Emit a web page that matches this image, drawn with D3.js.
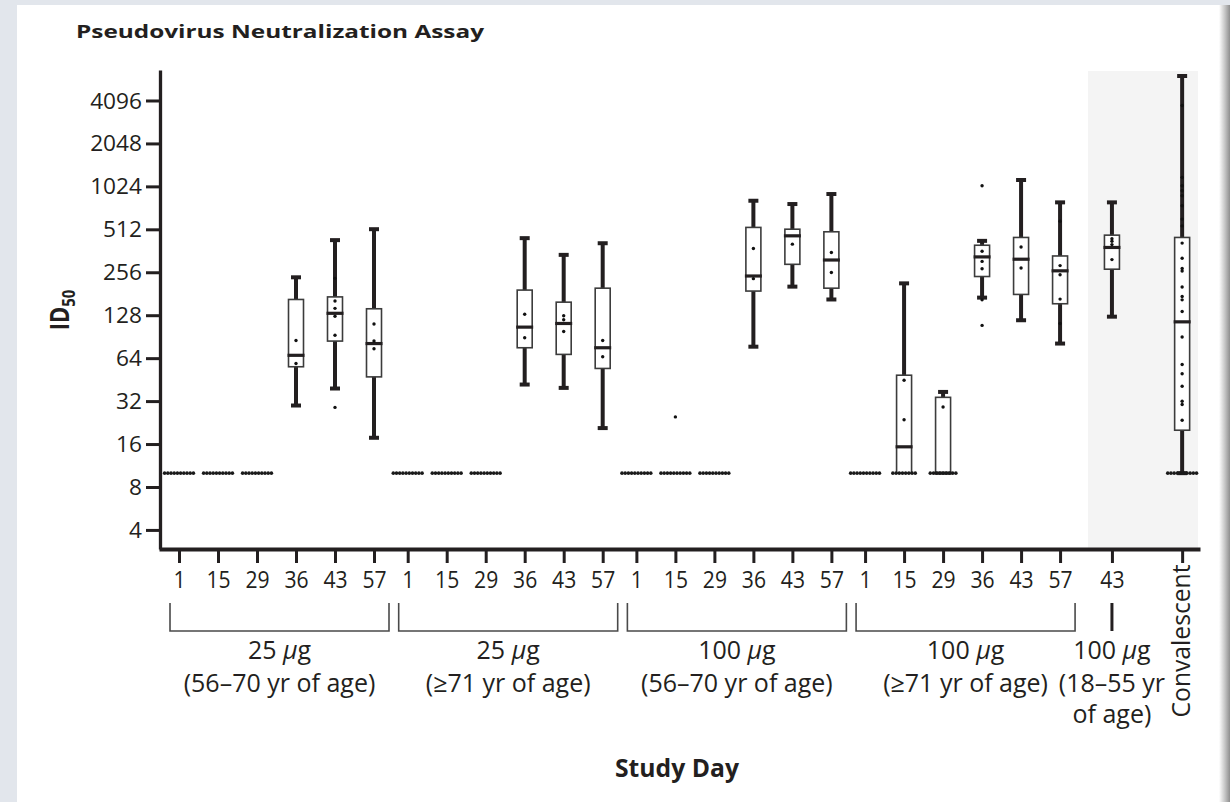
<!DOCTYPE html>
<html>
<head>
<meta charset="utf-8">
<script src="https://cdn.jsdelivr.net/npm/d3@7"></script>
<style>
  body { margin: 0; background: #e2e6ec; }
  text { font-family: "Open Sans", sans-serif; fill: #231f20; }
</style>
</head>
<body>
<script>
//// Data ////////////////////////////////////////////

// groups along the x axis
const doses = ["25", "25", "100", "100", "100"]
const ageLines = [
  ["(56–70 yr of age)"],
  ["(≥71 yr of age)"],
  ["(56–70 yr of age)"],
  ["(≥71 yr of age)"],
  ["(18–55 yr", "of age)"]
]
const studyDays = ["1", "15", "29", "36", "43", "57"]
const yTicks = [4, 8, 16, 32, 64, 128, 256, 512, 1024, 2048, 4096]
const LOD = 10

// one entry per x position: 4 groups x 6 days, 100 ug 18-55 day 43, convalescent
const tickLabels = [...studyDays, ...studyDays, ...studyDays, ...studyDays, "43", ""]

// box plot statistics (ID50), null = all at detection limit
const whiskerLow = [null, null, null, 29.8, 39.2, 17.7,
                    null, null, null, 41.8, 39.6, 20.7,
                    null, null, null, 77, 203, 165,
                    null, 10, 10, 170, 118, 81,
                    125, 10]
const q1 = [null, null, null, 55.7, 84.3, 47.3,
            null, null, null, 75.7, 68, 54.2,
            null, null, null, 189, 291, 198,
            null, 10, 10, 239, 179, 154,
            269, 20]
const median = [null, null, null, 67, 132, 81,
                null, null, null, 105.6, 112, 75.7,
                null, null, null, 241, 461, 312,
                null, 15.3, 10, 328, 316, 262,
                382, 115]
const q3 = [null, null, null, 165, 172, 142,
            null, null, null, 192, 158, 198,
            null, null, null, 528, 513, 492,
            null, 48.6, 34, 396, 449, 333,
            466, 449]
const whiskerHigh = [null, null, null, 236, 430, 513,
                     null, null, null, 444, 339, 409,
                     null, null, null, 812, 770, 905,
                     null, 214, 37.1, 425, 1135, 791,
                     791, 6080]

// individual values shown as dots
const points = [
  [], [], [], [85, 58.7], [232, 161, 143, 126, 92.6, 28.9], [111, 84.5, 74.5],
  [], [], [], [130, 89], [127, 119, 98.5], [85, 65.5],
  [], [24.8], [], [376, 231], [403], [352, 255],
  [], [44.8, 23.7], [29.1], [1035, 359, 305, 271, 164, 108.6], [385, 274], [583, 285, 246, 166, 112],
  [440, 422, 400, 314],
  [3777, 1185, 1035, 955, 880, 749, 604, 541, 410, 321, 272, 261, 202, 173, 164, 136,
   90, 57.8, 49.7, 40.7, 31.9, 30.3, 23.5]
]

// number of participants at the detection limit
const lodCount = [10, 10, 10, 0, 0, 0,
                  10, 10, 10, 0, 0, 0,
                  10, 10, 10, 0, 0, 0,
                  10, 8, 9, 0, 0, 0,
                  0, 10]

//// Layout //////////////////////////////////////////

const WIDTH = 1230
const HEIGHT = 802
const GROUP_STEP = 5.864   // in day-slot units
const INK = "#231f20"

const slots = tickLabels.map((d, i) => {
  if (i < 24) return Math.floor(i / 6) * GROUP_STEP + (i % 6)
  if (i === 24) return 3 * GROUP_STEP + 5 + 1.33
  return 3 * GROUP_STEP + 5 + 1.33 + 1.8
})

const x = d3.scaleLinear().domain([-0.513, 26.18]).range([159, 1200])
const y = d3.scaleLog().base(2).domain([2.94, 6700]).range([549, 70])

const svg = d3.select("body")
  .append("svg")
  .attr("width", WIDTH)
  .attr("height", HEIGHT)

// slide background and white panel
svg.append("rect").attr("width", WIDTH).attr("height", HEIGHT).attr("fill", "#e2e6ec")
svg.append("rect").attr("x", 17).attr("y", 5).attr("width", WIDTH - 17).attr("height", HEIGHT - 5).attr("fill", "#fff")

const grad = svg.append("defs").append("linearGradient").attr("id", "edge")
grad.append("stop").attr("offset", "0%").attr("stop-color", "#fff")
grad.append("stop").attr("offset", "55%").attr("stop-color", "#c4c4c4")
grad.append("stop").attr("offset", "100%").attr("stop-color", "#8e8e8e")
svg.append("rect").attr("x", 1219).attr("y", 5).attr("width", 11).attr("height", HEIGHT - 5).attr("fill", "url(#edge)")

// shaded area behind the last two columns
svg.append("rect")
  .attr("x", 1088).attr("y", 71)
  .attr("width", 110).attr("height", 478)
  .attr("fill", "#f4f4f4")

//// Axes ////

const yAxis = svg.append("g")
  .attr("transform", "translate(160,0)")
  .call(d3.axisLeft(y).tickValues(yTicks).tickFormat(d3.format("d")).tickSize(14).tickSizeOuter(0))
yAxis.select(".domain").attr("stroke", INK).attr("stroke-width", 3.3)
yAxis.selectAll(".tick line").attr("stroke", INK).attr("stroke-width", 3)
yAxis.selectAll(".tick text")
  .attr("x", null)
  .attr("dy", "0.36em")
  .attr("transform", "translate(-18,0) scale(1.08,1)")
  .style("font-size", "21px")

const xAxis = svg.append("g")
  .attr("transform", "translate(0,549)")
  .call(d3.axisBottom(x).tickValues(slots).tickFormat((d, i) => tickLabels[i]).tickSize(14).tickSizeOuter(0))
xAxis.select(".domain").attr("stroke", INK).attr("stroke-width", 4)
xAxis.selectAll(".tick line").attr("stroke", INK).attr("stroke-width", 3)
xAxis.selectAll(".tick text")
  .attr("y", 39)
  .attr("dy", null)
  .attr("transform", "scale(0.88,1)")
  .style("font-size", "24px")

//// Box plots ////

const boxData = d3.range(tickLabels.length)
  .filter(i => median[i] !== null)
  .map(i => ({
    cx: x(slots[i]),
    lo: whiskerLow[i], q1: q1[i], med: median[i], q3: q3[i], hi: whiskerHigh[i]
  }))

const boxes = svg.append("g").selectAll("g").data(boxData).join("g")

boxes.append("line")
  .attr("x1", d => d.cx).attr("x2", d => d.cx)
  .attr("y1", d => y(d.lo)).attr("y2", d => y(d.hi))
  .attr("stroke", INK).attr("stroke-width", 4)

boxes.filter(d => d.hi > d.q3).append("line")
  .attr("x1", d => d.cx - 5).attr("x2", d => d.cx + 5)
  .attr("y1", d => y(d.hi)).attr("y2", d => y(d.hi))
  .attr("stroke", INK).attr("stroke-width", 4)

boxes.filter(d => d.lo < d.q1).append("line")
  .attr("x1", d => d.cx - 5).attr("x2", d => d.cx + 5)
  .attr("y1", d => y(d.lo)).attr("y2", d => y(d.lo))
  .attr("stroke", INK).attr("stroke-width", 4)

boxes.append("rect")
  .attr("x", d => d.cx - 7.5)
  .attr("width", 15)
  .attr("y", d => y(d.q3))
  .attr("height", d => y(d.q1) - y(d.q3))
  .attr("fill", "#fff")
  .attr("stroke", "#3c3c3c")
  .attr("stroke-width", 1.6)

boxes.append("line")
  .attr("x1", d => d.cx - 8.5).attr("x2", d => d.cx + 8.5)
  .attr("y1", d => y(d.med)).attr("y2", d => y(d.med))
  .attr("stroke", INK).attr("stroke-width", 3.2)

//// Dots ////

const dotData = points.flatMap((vals, i) => vals.map(v => ({ cx: x(slots[i]), v })))
svg.append("g").selectAll("circle").data(dotData).join("circle")
  .attr("cx", d => d.cx)
  .attr("cy", d => y(d.v))
  .attr("r", 1.7)
  .attr("fill", "#111")

const lodData = lodCount.flatMap((n, i) =>
  d3.range(n).map(k => ({ cx: x(slots[i]) + (k - (n - 1) / 2) * 3.2 })))
svg.append("g").selectAll("circle").data(lodData).join("circle")
  .attr("cx", d => d.cx)
  .attr("cy", y(LOD))
  .attr("r", 1.8)
  .attr("fill", "#1a1a1a")

//// Group brackets and labels ////

const groupLabels = svg.append("g")
doses.forEach((dose, g) => {
  let cx
  if (g < 4) {
    const x0 = x(slots[g * 6]) - 9
    const x1 = x(slots[g * 6 + 5]) + 15
    groupLabels.append("path")
      .attr("d", `M${x0},603V631H${x1}V603`)
      .attr("fill", "none")
      .attr("stroke", "#4a4a4a")
      .attr("stroke-width", 1.6)
    cx = (x(slots[g * 6]) + x(slots[g * 6 + 5])) / 2 + 3
  } else {
    cx = x(slots[24])
    groupLabels.append("line")
      .attr("x1", cx).attr("x2", cx).attr("y1", 603).attr("y2", 631)
      .attr("stroke", INK).attr("stroke-width", 3)
  }
  const t = groupLabels.append("text")
    .attr("x", cx).attr("y", 659)
    .attr("text-anchor", "middle")
    .style("font-size", "25px")
  t.append("tspan").text(dose + " ")
  t.append("tspan").style("font-style", "italic").text("µ")
  t.append("tspan").text("g")
  ageLines[g].forEach((line, k) => {
    groupLabels.append("text")
      .attr("x", cx).attr("y", 692 + k * 31)
      .attr("text-anchor", "middle")
      .style("font-size", "25px")
      .text(line)
  })
})

// rotated label for the convalescent column
svg.append("g")
  .attr("transform", `translate(${x(slots[25]) + 8},641) scale(1.16,1) rotate(-90)`)
  .append("text")
  .attr("text-anchor", "middle")
  .attr("textLength", 153)
  .attr("lengthAdjust", "spacingAndGlyphs")
  .style("font-size", "22px")
  .text("Convalescent")

//// Titles ////

svg.append("text")
  .attr("x", 76).attr("y", 38)
  .attr("textLength", 408)
  .attr("lengthAdjust", "spacingAndGlyphs")
  .style("font-size", "18.5px")
  .style("font-weight", "bold")
  .text("Pseudovirus Neutralization Assay")

svg.append("text")
  .attr("x", 677).attr("y", 777)
  .attr("text-anchor", "middle")
  .attr("textLength", 124)
  .attr("lengthAdjust", "spacingAndGlyphs")
  .style("font-size", "25px")
  .style("font-weight", "bold")
  .text("Study Day")

const yLabel = svg.append("g")
  .attr("transform", "translate(69,310) scale(1.2,1) rotate(-90)")
  .append("text")
  .attr("text-anchor", "middle")
  .style("font-weight", "bold")
  .style("font-size", "22px")
yLabel.append("tspan").text("ID")
yLabel.append("tspan").attr("dy", 5).style("font-size", "15px").text("50")
</script>
</body>
</html>
